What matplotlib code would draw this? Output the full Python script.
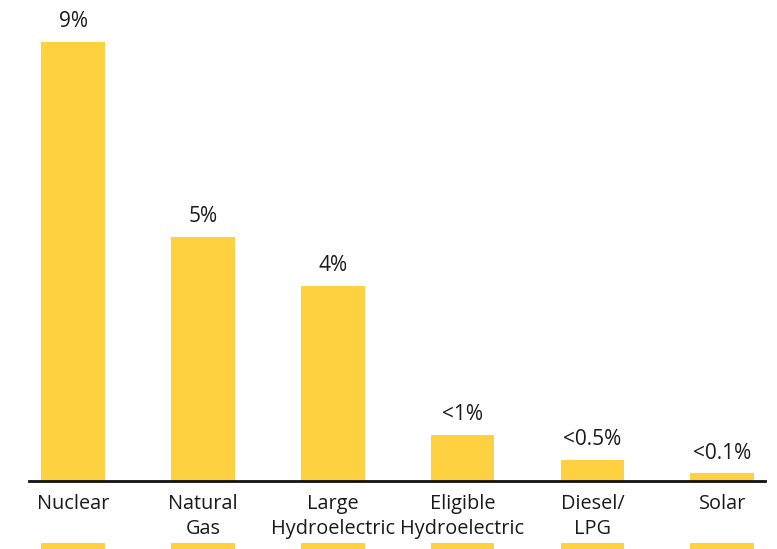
import matplotlib
matplotlib.use("Agg")
import matplotlib.pyplot as plt

plt.rcParams['font.family'] = ['Open Sans', 'DejaVu Sans']

categories = ["Nuclear", "Natural\nGas", "Large\nHydroelectric",
              "Eligible\nHydroelectric", "Diesel/\nLPG", "Solar"]
shares = [9, 5, 4, 0.94, 0.43, 0.16]
share_labels = ["9%", "5%", "4%", "<1%", "<0.5%", "<0.1%"]

BAR_COLOR = "#FDD13F"
TEXT_COLOR = "#1a1a1a"

fig = plt.figure(figsize=(7.77, 5.49), dpi=100)
ax = fig.add_axes([29 / 777, 68 / 549, 736 / 777, 481 / 549])

x = list(range(len(categories)))
bars = ax.bar(x, shares, width=0.49, color=BAR_COLOR, zorder=2)

# value labels above each bar
for b, lab in zip(bars, share_labels):
    ax.annotate(lab, (b.get_x() + b.get_width() / 2, b.get_height()),
                xytext=(0, 14.5), textcoords="offset points",
                ha="center", va="center", fontsize=15, color=TEXT_COLOR)

# strips of the next row peeking in at the bottom edge
ax.bar(x, [-0.14] * len(x), bottom=-1.27, width=0.49, color=BAR_COLOR,
       clip_on=False)

ax.set_xlim(-0.34, 5.33)
ax.set_ylim(0, 481 / 48.8)
ax.set_xticks(x)
ax.set_xticklabels(categories, fontsize=14.3, color=TEXT_COLOR, linespacing=1.3)
ax.tick_params(axis="x", length=0, pad=9.5)
ax.set_yticks([])
for side in ["top", "right", "left"]:
    ax.spines[side].set_visible(False)
ax.spines["bottom"].set_linewidth(2)
ax.spines["bottom"].set_color("#111111")
ax.patch.set_alpha(0)

fig.savefig("out.png", dpi=100)
